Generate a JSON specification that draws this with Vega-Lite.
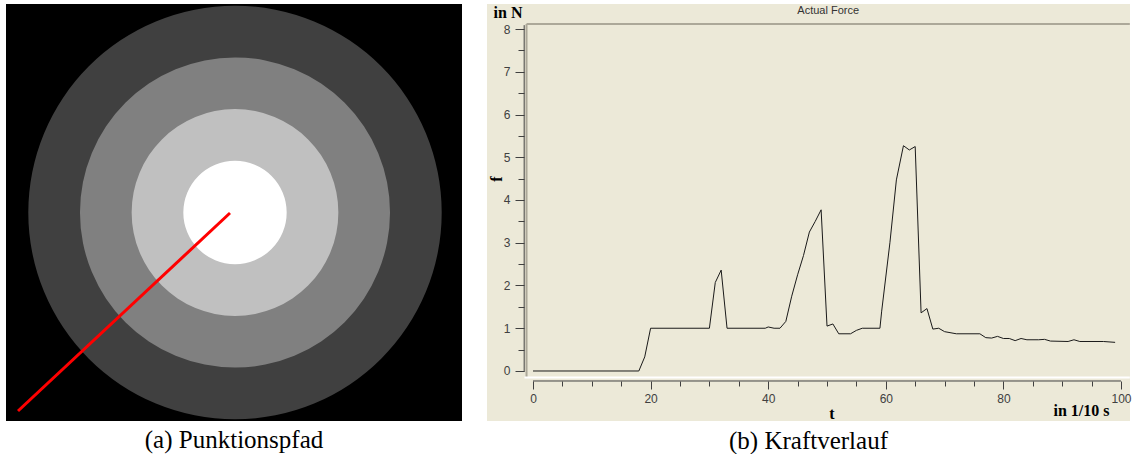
{
  "$schema": "https://vega.github.io/schema/vega-lite/v6.json",
  "background": "white",
  "padding": {"left": 6, "top": 4, "right": 0, "bottom": 0},
  "autosize": {"type": "pad"},
  "spacing": 25,
  "config": {
    "view": {"stroke": null},
    "title": {"font": "Liberation Serif", "fontWeight": "normal", "fontSize": 25, "color": "black"},
    "axis": {"grid": false, "labelFont": "Liberation Sans", "labelFontSize": 12, "labelColor": "#404040", "tickColor": "#404040", "labelFlush": false}
  },
  "datasets": {
    "rings": [
      {"ring": "outer", "cx": 229, "cy": 208.5, "radius": 4},
      {"ring": "middle", "cx": 229, "cy": 208.5, "radius": 3},
      {"ring": "inner", "cx": 229, "cy": 208.5, "radius": 2},
      {"ring": "core", "cx": 229, "cy": 208.5, "radius": 1}
    ],
    "path": [
      {"x": 12, "y": 407},
      {"x": 224, "y": 209}
    ],
    "force": [
      {"t": 0, "f": 0}, {"t": 18, "f": 0}, {"t": 19, "f": 0.33}, {"t": 20, "f": 1.0},
      {"t": 30, "f": 1.0}, {"t": 31, "f": 2.07}, {"t": 32, "f": 2.36}, {"t": 33, "f": 1.0},
      {"t": 39.5, "f": 1.0}, {"t": 40, "f": 1.03}, {"t": 41, "f": 1.0}, {"t": 42, "f": 1.0},
      {"t": 43, "f": 1.16}, {"t": 44, "f": 1.75}, {"t": 45, "f": 2.25}, {"t": 46, "f": 2.7},
      {"t": 47, "f": 3.25}, {"t": 48, "f": 3.5}, {"t": 49, "f": 3.77}, {"t": 50, "f": 1.05},
      {"t": 51, "f": 1.1}, {"t": 52, "f": 0.87}, {"t": 54, "f": 0.87}, {"t": 55, "f": 0.95},
      {"t": 56, "f": 1.0}, {"t": 59, "f": 1.0}, {"t": 59.3, "f": 1.4}, {"t": 60.7, "f": 3.0},
      {"t": 61.8, "f": 4.47}, {"t": 63, "f": 5.27}, {"t": 64, "f": 5.17}, {"t": 65, "f": 5.25},
      {"t": 66, "f": 1.36}, {"t": 67, "f": 1.46}, {"t": 68, "f": 0.98}, {"t": 69, "f": 1.0},
      {"t": 70, "f": 0.92}, {"t": 72, "f": 0.87}, {"t": 76, "f": 0.87}, {"t": 77, "f": 0.78},
      {"t": 78, "f": 0.77}, {"t": 79, "f": 0.81}, {"t": 80, "f": 0.76}, {"t": 81, "f": 0.76},
      {"t": 82, "f": 0.71}, {"t": 83, "f": 0.76}, {"t": 84, "f": 0.73}, {"t": 86, "f": 0.73},
      {"t": 87, "f": 0.74}, {"t": 88, "f": 0.7}, {"t": 91, "f": 0.69}, {"t": 92, "f": 0.73},
      {"t": 93, "f": 0.69}, {"t": 97, "f": 0.69}, {"t": 99, "f": 0.67}
    ]
  },
  "hconcat": [
    {
      "width": 456,
      "height": 417,
      "view": {"fill": "black", "stroke": null},
      "title": {"text": "(a) Punktionspfad", "orient": "bottom", "anchor": "middle", "font": "Liberation Serif", "fontSize": 25, "fontWeight": "normal", "color": "black", "baseline": "top", "offset": 7},
      "layer": [
        {
          "data": {"name": "rings"},
          "mark": {"type": "point", "shape": "circle", "filled": true, "opacity": 1, "strokeWidth": 0},
          "encoding": {
            "x": {"field": "cx", "type": "quantitative", "scale": {"domain": [0, 456], "nice": false, "zero": false}, "axis": null},
            "y": {"field": "cy", "type": "quantitative", "scale": {"domain": [0, 417], "nice": false, "zero": false, "reverse": true}, "axis": null},
            "size": {"field": "radius", "type": "quantitative", "scale": {"type": "pow", "exponent": 2, "domain": [0, 4], "range": [0, 170900]}, "legend": null},
            "color": {"field": "ring", "type": "nominal", "scale": {"domain": ["outer", "middle", "inner", "core"], "range": ["#404040", "#808080", "#c0c0c0", "#ffffff"]}, "legend": null},
            "order": {"field": "radius", "type": "quantitative", "sort": "descending"}
          }
        },
        {
          "data": {"name": "path"},
          "mark": {"type": "line", "color": "#ff0000", "strokeWidth": 3},
          "encoding": {
            "x": {"field": "x", "type": "quantitative", "axis": null},
            "y": {"field": "y", "type": "quantitative", "axis": null}
          }
        }
      ]
    },
    {
      "width": 643,
      "height": 417,
      "view": {"fill": "#ece9d8", "stroke": null},
      "title": {"text": "(b) Kraftverlauf", "orient": "bottom", "anchor": "middle", "font": "Liberation Serif", "fontSize": 25, "fontWeight": "normal", "color": "black", "baseline": "top", "offset": 7},
      "resolve": {"axis": {"x": "independent", "y": "independent"}},
      "layer": [
        {
          "data": {"values": [{}]},
          "mark": {"type": "rule", "color": "#aca899", "strokeWidth": 2},
          "encoding": {
            "x": {"datum": -1.1, "type": "quantitative", "axis": null},
            "y": {"datum": -0.15, "type": "quantitative", "axis": null},
            "y2": {"datum": 8.12}
          }
        },
        {
          "data": {"values": [{}]},
          "mark": {"type": "rule", "color": "#aca899", "strokeWidth": 2},
          "encoding": {
            "x": {"datum": -1.1, "type": "quantitative", "axis": null},
            "x2": {"datum": 101.5},
            "y": {"datum": 8.12, "type": "quantitative", "axis": null}
          }
        },
        {
          "data": {"values": [{}]},
          "mark": {"type": "rule", "color": "#ffffff", "strokeWidth": 2},
          "encoding": {
            "x": {"datum": -1.45, "type": "quantitative", "axis": null},
            "x2": {"datum": 101.5},
            "y": {"datum": -0.15, "type": "quantitative", "axis": null}
          }
        },
        {
          "data": {"values": [{}]},
          "mark": {"type": "rule", "color": "#404040", "strokeWidth": 1},
          "encoding": {
            "x": {"datum": -1.5, "type": "quantitative", "axis": null},
            "y": {"datum": -0.02, "type": "quantitative", "axis": {"orient": "left", "offset": -37, "domain": false, "values": [0.5, 1.5, 2.5, 3.5, 4.5, 5.5, 6.5, 7.5], "labels": false, "tickSize": 6, "title": null}},
            "y2": {"datum": 8.09}
          }
        },
        {
          "data": {"values": [{}]},
          "mark": {"type": "rule", "color": "#404040", "strokeWidth": 1},
          "encoding": {
            "x": {"datum": 0, "type": "quantitative", "axis": {"orient": "bottom", "offset": -40, "domain": false, "values": [5, 10, 15, 25, 30, 35, 45, 50, 55, 65, 70, 75, 85, 90, 95], "labels": false, "tickSize": 5, "title": null}},
            "x2": {"datum": 100},
            "y": {"datum": -0.234, "type": "quantitative", "axis": null}
          }
        },
        {
          "data": {"name": "force"},
          "mark": {"type": "line", "color": "#1a1a1a", "strokeWidth": 1},
          "encoding": {
            "x": {"field": "t", "type": "quantitative", "scale": {"domain": [-7.823, 101.53], "nice": false, "zero": false},
                  "axis": {"orient": "bottom", "offset": -40, "domain": false, "values": [0, 20, 40, 60, 80, 100], "tickSize": 8, "labelPadding": 4, "title": null}},
            "y": {"field": "f", "type": "quantitative", "scale": {"domain": [-1.17, 8.585], "nice": false, "zero": false},
                  "axis": {"orient": "left", "offset": -37, "domain": false, "values": [0, 1, 2, 3, 4, 5, 6, 7, 8], "tickSize": 9, "labelPadding": 5, "title": null}}
          }
        },
        {
          "data": {"values": [{}]},
          "mark": {"type": "text", "text": "Actual Force", "font": "Liberation Sans", "fontSize": 11, "color": "#333333", "baseline": "middle", "align": "center"},
          "encoding": {
            "x": {"datum": 50.2, "type": "quantitative", "axis": null},
            "y": {"datum": 8.42, "type": "quantitative", "axis": null}
          }
        },
        {
          "data": {"values": [{}]},
          "mark": {"type": "text", "text": "in N", "font": "Liberation Serif", "fontSize": 16, "fontWeight": "bold", "color": "#000000", "baseline": "middle", "align": "center"},
          "encoding": {
            "x": {"datum": -4.25, "type": "quantitative", "axis": null},
            "y": {"datum": 8.37, "type": "quantitative", "axis": null}
          }
        },
        {
          "data": {"values": [{}]},
          "mark": {"type": "text", "text": "f", "font": "Liberation Serif", "fontSize": 16, "fontWeight": "bold", "color": "#000000", "baseline": "middle", "align": "center", "angle": 270},
          "encoding": {
            "x": {"datum": -6.12, "type": "quantitative", "axis": null},
            "y": {"datum": 4.49, "type": "quantitative", "axis": null}
          }
        },
        {
          "data": {"values": [{}]},
          "mark": {"type": "text", "text": "t", "font": "Liberation Serif", "fontSize": 16, "fontWeight": "bold", "color": "#000000", "baseline": "middle", "align": "center"},
          "encoding": {
            "x": {"datum": 50.85, "type": "quantitative", "axis": null},
            "y": {"datum": -1.0, "type": "quantitative", "axis": null}
          }
        },
        {
          "data": {"values": [{}]},
          "mark": {"type": "text", "text": "in 1/10 s", "font": "Liberation Serif", "fontSize": 16, "fontWeight": "bold", "color": "#000000", "baseline": "middle", "align": "center"},
          "encoding": {
            "x": {"datum": 93.28, "type": "quantitative", "axis": null},
            "y": {"datum": -0.936, "type": "quantitative", "axis": null}
          }
        }
      ]
    }
  ]
}
